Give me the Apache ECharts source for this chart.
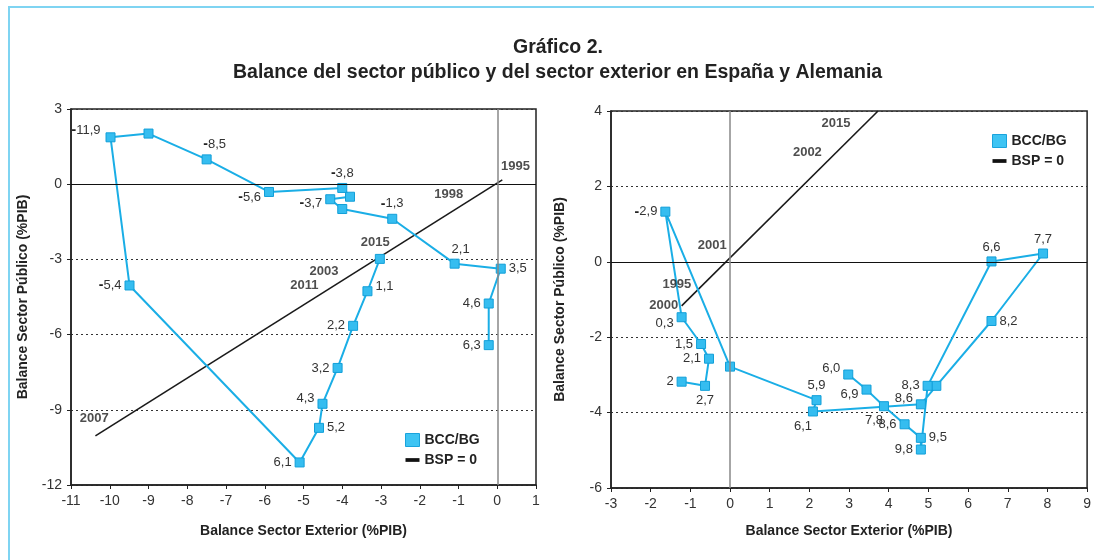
<!DOCTYPE html>
<html>
<head>
<meta charset="utf-8">
<script src="https://cdn.jsdelivr.net/npm/echarts@6/dist/echarts.min.js"></script>
<style>
  html, body { margin: 0; padding: 0; background: #fff; }
  #main { width: 1094px; height: 560px; }
</style>
</head>
<body>
<div id="main"></div>
<script>
// España: balance exterior (x) y público (y), 1995-2015
var espX = [-0.22, -0.22, 0.09, -1.1, -2.71, -4.0, -4.31, -3.8, -4.0, -5.89, -7.5, -9.0, -9.98, -9.49, -5.1, -4.6, -4.51, -4.12, -3.72, -3.35, -3.03];
var espY = [-6.42, -4.76, -3.37, -3.17, -1.38, -0.99, -0.6, -0.5, -0.15, -0.31, 0.99, 2.02, 1.87, -4.04, -11.1, -9.72, -8.76, -7.33, -5.65, -4.27, -2.98];
var espLbl = ['6,3', '4,6', '3,5', '2,1', '-1,3', '', '-3,7', '', '-3,8', '-5,6', '-8,5', '', '-11,9', '-5,4', '6,1', '5,2', '4,3', '3,2', '2,2', '1,1', ''];
var espBspX = [-10.37, 0.13];
var espBspY = [-10.04, 0.17];
var espYears = ['1995', '1998', '2015', '2003', '2011', '2007'];
var espYearX = [0.47, -1.25, -3.15, -4.47, -4.98, -10.4];
var espYearY = [0.7, -0.4, -2.32, -3.49, -4.04, -9.33];

// Alemania
var deuX = [-1.22, -0.63, -0.53, -0.73, -1.22, -1.63, 0, 2.18, 2.09, 4.81, 5.2, 6.59, 7.89, 6.59, 4.98, 4.81, 4.81, 4.4, 3.88, 3.44, 2.98];
var deuY = [-3.18, -3.29, -2.57, -2.18, -1.47, 1.33, -2.78, -3.67, -3.97, -3.78, -3.29, -1.57, 0.22, 0.01, -3.29, -4.98, -4.67, -4.31, -3.83, -3.39, -2.99];
var deuLbl = ['2', '2,7', '2,1', '1,5', '0,3', '-2,9', '', '5,9', '6,1', '8,6', '', '8,2', '7,7', '6,6', '8,3', '9,8', '9,5', '8,6', '7,8', '6,9', '6,0'];
var deuBspX = [-1.22, 3.73];
var deuBspY = [-1.17, 4.0];
var deuYears = ['2015', '2002', '2001', '1995', '2000'];
var deuYearX = [2.67, 1.95, -0.45, -1.34, -1.67];
var deuYearY = [3.68, 2.9, 0.43, -0.59, -1.16];

// colocación de etiquetas (estilo)
var espPos = ['left', 'left', 'right', 'top', 'top', '', 'left', '', 'top', 'left', 'top', '', 'left', 'left', 'left', 'right', 'left', 'left', 'left', 'right', ''];
var espOff = {3: [6, 0], 6: [0, 4], 9: [0, 5], 10: [8, 0], 12: [-2, -7], 16: [0, -5], 19: [0, -5]};
var deuPos = ['left', 'bottom', 'left', 'left', 'left', 'left', '', 'top', 'bottom', 'left', '', 'right', 'top', 'top', 'left', 'left', 'right', 'left', 'bottom', 'left', 'left'];
var deuOff = {4: [0, 6], 8: [-10, 0], 9: [0, -6], 18: [-10, 0], 19: [0, 5], 20: [0, -6]};

var FONT = "'Liberation Sans', Arial, sans-serif";
var CYAN = '#1aaee6';

function labelText(s) {
  if (s.charAt(0) == '-') return '{m|-}{n|' + s.substring(1) + '}';
  return '{n|' + s + '}';
}

function pointData(xs, ys, lbls, pos, off) {
  return xs.map(function (x, i) {
    var item = {value: [x, ys[i]]};
    if (lbls[i]) {
      item.label = {show: true, position: pos[i], offset: off[i] || [0, 0], formatter: labelText(lbls[i])};
    }
    return item;
  });
}

function pairs(xs, ys) {
  return xs.map(function (x, i) { return [x, ys[i]]; });
}

function yearData(names, xs, ys) {
  return names.map(function (n, i) { return {value: [xs[i], ys[i]], name: n}; });
}

function axisX(idx, min, max) {
  return {
    gridIndex: idx, type: 'value', min: min, max: max, interval: 1,
    name: 'Balance Sector Exterior (%PIB)', nameLocation: 'middle', nameGap: idx ? 36 : 39,
    nameTextStyle: {fontFamily: FONT, fontWeight: 'bold', fontSize: 14, color: '#222'},
    axisLine: {onZero: false, lineStyle: {color: '#222', width: 1.5}},
    axisTick: {length: 4, lineStyle: {color: '#222'}},
    axisLabel: {fontFamily: FONT, fontSize: 14, color: '#333', margin: 9},
    splitLine: {show: false}
  };
}

function axisY(idx, min, max, step) {
  return {
    gridIndex: idx, type: 'value', min: min, max: max, interval: step,
    name: 'Balance Sector Público (%PIB)', nameLocation: 'middle', nameGap: idx ? 44 : 41,
    nameTextStyle: {fontFamily: FONT, fontWeight: 'bold', fontSize: 14, color: '#222'},
    axisLine: {onZero: false, lineStyle: {color: '#222', width: 1.5}},
    axisTick: {length: 4, lineStyle: {color: '#222'}},
    axisLabel: {fontFamily: FONT, fontSize: 14, color: '#333', margin: 9},
    splitLine: {show: true, lineStyle: {color: '#333', type: [2, 3], width: 1}}
  };
}

function pointSeries(idx, data) {
  return {
    name: 'BCC/BG', type: 'line', xAxisIndex: idx, yAxisIndex: idx, z: 4,
    data: data,
    symbol: 'rect', symbolSize: 9, showAllSymbol: true,
    lineStyle: {color: CYAN, width: 2},
    itemStyle: {color: '#35bdf0', borderColor: '#129fd8', borderWidth: 1},
    label: {
      show: false, distance: 3, color: '#333',
      rich: {
        m: {fontFamily: FONT, fontSize: 14, fontWeight: 'bold', color: '#222'},
        n: {fontFamily: FONT, fontSize: 13, color: '#333'}
      }
    },
    emphasis: {disabled: true},
    animation: false
  };
}

function bspSeries(idx, data) {
  return {
    name: 'BSP = 0', type: 'line', xAxisIndex: idx, yAxisIndex: idx, z: 3,
    data: data, symbol: 'none',
    lineStyle: {color: '#1a1a1a', width: 1.6},
    markLine: {
      silent: true, symbol: 'none', label: {show: false}, animation: false,
      data: [
        {yAxis: 0, lineStyle: {color: '#111', width: 1.2, type: 'solid'}},
        {xAxis: 0, lineStyle: {color: '#888', width: 1.5, type: 'solid'}}
      ]
    },
    animation: false
  };
}

function yearSeries(idx, data) {
  return {
    name: 'años', type: 'scatter', xAxisIndex: idx, yAxisIndex: idx, z: 5,
    data: data, symbolSize: 0, silent: true,
    label: {show: true, position: 'inside', formatter: '{b}', fontFamily: FONT, fontWeight: 'bold', fontSize: 13, color: '#222'},
    animation: false
  };
}

function legendAt(left, top) {
  return {
    left: left, top: top, orient: 'vertical', itemWidth: 14, itemHeight: 13, itemGap: 6,
    selectedMode: false,
    textStyle: {fontFamily: FONT, fontWeight: 'bold', fontSize: 14, color: '#222'},
    data: [
      {name: 'BCC/BG', icon: 'rect', itemStyle: {color: '#3ec4f3', borderColor: '#1aa3dc', borderWidth: 1}},
      {name: 'BSP = 0', icon: 'path://M0,0L15,0L15,4L0,4Z', itemStyle: {color: '#111', borderWidth: 0}}
    ]
  };
}

var chart = echarts.init(document.getElementById('main'), null, {renderer: 'canvas'});

var option = {
  backgroundColor: '#fff',
  animation: false,
  graphic: [{
    type: 'rect', silent: true, z: 0,
    shape: {x: 9, y: 7, width: 1300, height: 800},
    style: {fill: 'none', stroke: '#7fd4f2', lineWidth: 2}
  }],
  title: [{
    text: 'Gráfico 2.', left: 508, top: 33,
    textStyle: {fontFamily: FONT, fontWeight: 'bold', fontSize: 19.5, color: '#222'}
  }, {
    text: 'Balance del sector público y del sector exterior en España y Alemania', left: 228, top: 58,
    textStyle: {fontFamily: FONT, fontWeight: 'bold', fontSize: 19.5, color: '#222'}
  }],
  legend: [legendAt(400, 428), legendAt(987, 129)],
  grid: [
    {left: 71, right: 558, top: 109, bottom: 75, show: true, borderColor: '#222', borderWidth: 1.5, backgroundColor: 'transparent'},
    {left: 611, right: 6, top: 111, bottom: 72, show: true, borderColor: '#222', borderWidth: 1.5, backgroundColor: 'transparent'}
  ],
  xAxis: [axisX(0, -11, 1), axisX(1, -3, 9)],
  yAxis: [axisY(0, -12, 3, 3), axisY(1, -6, 4, 2)],
  series: [
    bspSeries(0, pairs(espBspX, espBspY)),
    pointSeries(0, pointData(espX, espY, espLbl, espPos, espOff)),
    yearSeries(0, yearData(espYears, espYearX, espYearY)),
    bspSeries(1, pairs(deuBspX, deuBspY)),
    pointSeries(1, pointData(deuX, deuY, deuLbl, deuPos, deuOff)),
    yearSeries(1, yearData(deuYears, deuYearX, deuYearY))
  ]
};

chart.setOption(option);
</script>
</body>
</html>
